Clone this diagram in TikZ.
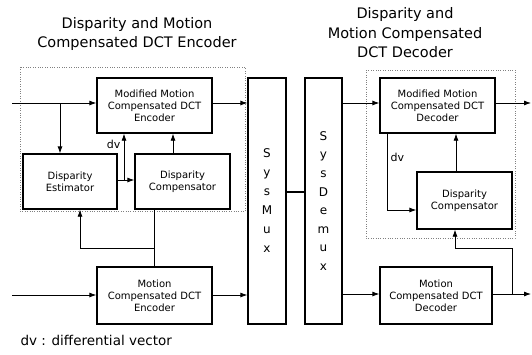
\documentclass[tikz,border=0pt]{standalone}
\usepackage{fontspec}
\setmainfont{DejaVu Sans}
\usetikzlibrary{arrows.meta}

\begin{document}
\begin{tikzpicture}[x=1pt,y=-1pt,>={Latex[length=7pt,width=5pt]},
  blk/.style={draw,line width=1.3pt,align=center,inner sep=0pt,font=\fontsize{10}{12}\selectfont},
  muxtxt/.style={font=\fontsize{12}{19}\selectfont},
  heading/.style={align=center,font=\fontsize{14.5}{19.5}\selectfont},
  link/.style={thick}]
\useasboundingbox (0,0) rectangle (532,354);
%\draw[help lines, color=gray!30, dashed] (0,0) grid[step=20] (532,354);
\draw[dotted, gray] (20,67) rectangle (245,211);
\draw[dotted, gray] (366,70) rectangle (515,238);
\node[heading] (enctitle) at (137,34) {Disparity and Motion\\Compensated DCT Encoder};
\node[heading] (dectitle) at (405,33) {Disparity and\\Motion Compensated\\DCT Decoder};
% encoder side
\node[blk, minimum width=115pt, minimum height=55pt] (menc) at (154.5,105.5) {Modified Motion\\Compensated DCT\\Encoder};
\node[blk, minimum width=94pt, minimum height=55pt] (dest) at (70,181.5) {Disparity\\Estimator};
\node[blk, minimum width=95pt, minimum height=55pt] (dcomp) at (182.5,181.5) {Disparity\\Compensator};
\node[blk, minimum width=115pt, minimum height=57pt] (mcenc) at (154.5,295.5) {Motion\\Compensated DCT\\Encoder};
\node[blk, muxtxt, minimum width=38pt, minimum height=246pt] (mux) at (267,201) {S\\y\\s\\M\\u\\x};
% decoder side
\node[blk, muxtxt, minimum width=37pt, minimum height=246pt, font=\fontsize{12}{18.6}\selectfont] (demux) at (323.5,201) {S\\y\\s\\D\\e\\m\\u\\x};
\node[blk, minimum width=115pt, minimum height=55pt] (mdec) at (437.5,105.5) {Modified Motion\\Compensated DCT\\Decoder};
\node[blk, minimum width=95pt, minimum height=57pt] (dcompd) at (464.5,200.5) {Disparity\\Compensator};
\node[blk, minimum width=112pt, minimum height=57pt] (mcdec) at (436,295.5) {Motion\\Compensated DCT\\Decoder};
\node[anchor=west, font=\fontsize{13.5}{15}\selectfont] (note) at (17,340) {dv : differential vector};
% connectors
\coordinate (inA) at (12,103);
\coordinate (inB) at (12,295);
\coordinate (outA) at (531,103);
\coordinate (outB) at (531,294);
\coordinate (tapA) at (60,103);
\coordinate (dvA) at (124,180);
\coordinate (upA) at (173,0);
\coordinate (fbL) at (80,248);
\coordinate (lnk) at (295,192);
\coordinate (dvB) at (387,210);
\coordinate (upB) at (456,0);
\coordinate (fbR) at (512,248);
\coordinate (fbRL) at (455,248);
\draw[->, link] (inA) -- (inA -| menc.west);
\draw[->, link] (tapA) -- (tapA |- dest.north);
\draw[->, link] (menc.east |- inA) -- (mux.west |- inA);
\draw[->, link] (dest.east |- dvA) -- (dcomp.west |- dvA);
\draw[->, link] (dvA) -- node[left, pos=0.77, font=\fontsize{11}{12}\selectfont] {dv} (dvA |- menc.south);
\draw[->, link] (dcomp.north -| upA) -- (menc.south -| upA);
\draw[link] (mcenc.north) -- (dcomp.south -| mcenc.north);
\draw[->, link] (mcenc.north |- fbL) -- (fbL) -- (fbL |- dest.south);
\draw[->, link] (inB) -- (inB -| mcenc.west);
\draw[->, link] (mcenc.east |- inB) -- (mux.west |- inB);
\draw[line width=2.4pt] (mux.east |- lnk) -- (demux.west |- lnk);
\draw[->, link] (demux.east |- inA) -- (mdec.west |- inA);
\draw[->, link] (mdec.east |- outA) -- (outA);
\draw[->, link] (mdec.south -| dvB) -- node[right, pos=0.31, font=\fontsize{11}{12}\selectfont] {dv} (dvB) -- (dcompd.west |- dvB);
\draw[->, link] (dcompd.north -| upB) -- (mdec.south -| upB);
\draw[->, link] (demux.east |- outB) -- (mcdec.west |- outB);
\draw[->, link] (mcdec.east |- outB) -- (outB);
\draw[->, link] (fbR |- outB) -- (fbR) -- (fbRL) -- (fbRL |- dcompd.south);
\end{tikzpicture}
\end{document}
